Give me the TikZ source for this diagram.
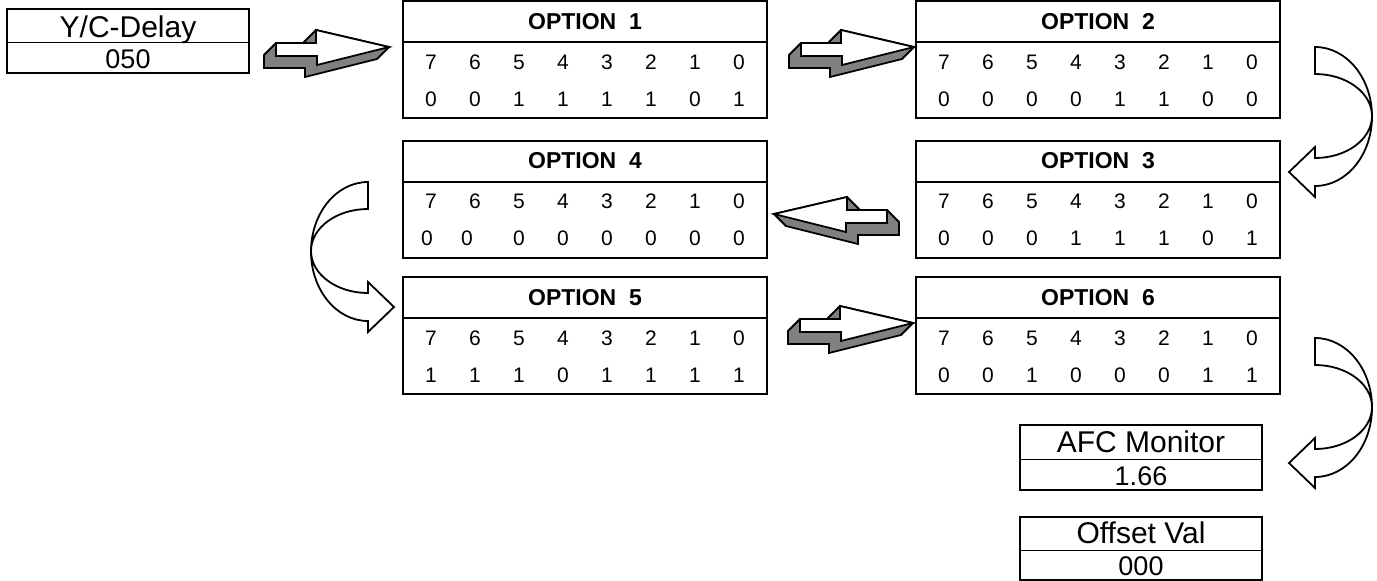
\documentclass[tikz,border=0pt]{standalone}
\usepackage{fontspec}
\setmainfont{Liberation Sans}
\usetikzlibrary{calc, positioning}
\definecolor{ShadeGray}{HTML}{808080}
\tikzset{
  optbox/.style={draw, line width=2pt, minimum width=364pt, minimum height=117pt, inner sep=0pt},
  valbox/.style={draw, line width=1.5pt, minimum width=242pt, inner sep=0pt},
  opthead/.style={font=\bfseries\fontsize{23}{23}\selectfont, inner sep=0pt},
  bitnum/.style={font=\fontsize{21}{21}\selectfont, inner sep=0pt},
  lbltext/.style={font=\fontsize{30}{30}\selectfont, inner sep=0pt, anchor=base},
  valtext/.style={font=\fontsize{27}{27}\selectfont, inner sep=0pt, anchor=base},
  shapeline/.style={draw=black, line width=1.8pt, line join=miter},
  % 3D block arrow, tip at the origin
  pics/blockarrow/.style={code={
    \fill[ShadeGray, shapeline] (-113,-4) -- (-125,8) -- (-125,21) -- (-84,21) -- (-84,30)
      -- (-12,12) -- (0,0) -- (-73,-17) -- (-85,-5) -- (-85,-4) -- cycle;
    \filldraw[fill=white, shapeline] (-113,-4) -- (-73,-4) -- (-73,-17) -- (0,0)
      -- (-72,18) -- (-72,9) -- (-113,9) -- cycle;
  }},
  % curved arrow, top of the tail at the origin
  pics/curvearrow/.style={code={
    \filldraw[fill=white, shapeline]
      (0,0) .. controls (31.5,0) and (57,31.1) .. (57,69.5)
      .. controls (57,107.9) and (31.5,139) .. (0,139)
      -- (0,150) -- (-26,125) -- (0,100) -- (0,111)
      .. controls (31.5,111) and (57,92.2) .. (57,69)
      .. controls (57,45.8) and (31.5,27) .. (0,27) -- cycle;
  }},
}
% name, centre, number, value bits with their x offsets
\newcommand{\OptTable}[4]{%
  \node[optbox] (#1) at (#2) {};
  \draw[line width=2pt] ($(#1.north west)+(0,42)$) -- ($(#1.north east)+(0,42)$);
  \node[opthead] (#1-head) at ($(#1.north)+(0,21.5)$) {OPTION\ \ #3};
  \foreach \b [count=\i from 0] in {7,6,5,4,3,2,1,0}
    \node[bitnum] (#1-b\b) at ($(#1.north west)+(29+44*\i,62)$) {\b};
  \foreach \v/\px [count=\i from 0] in {#4}
    \node[bitnum] (#1-v\i) at ($(#1.north west)+(\px,99)$) {\v};
}
\begin{document}
\begin{tikzpicture}[x=1pt, y=-1pt]
  \useasboundingbox (0,0) rectangle (1377,581);

  % value boxes
  \node[valbox, minimum height=64pt] (yc) at (128,41) {};
  \draw[line width=1.5pt] ($(yc.north west)+(0,34)$) -- ($(yc.north east)+(0,34)$);
  \node[lbltext] (yc-label) at ($(yc.north)+(0,29)$) {Y/C-Delay};
  \node[valtext] (yc-val) at ($(yc.south)+(0,-5)$) {050};

  \node[valbox, minimum height=65pt] (afc) at (1141,457.5) {};
  \draw[line width=1.5pt] ($(afc.north west)+(0,35)$) -- ($(afc.north east)+(0,35)$);
  \node[lbltext] (afc-label) at ($(afc.north)+(0,28)$) {AFC Monitor};
  \node[valtext] (afc-val) at ($(afc.south)+(0,-5)$) {1.66};

  \node[valbox, minimum height=63pt] (ofs) at (1141,548.5) {};
  \draw[line width=1.5pt] ($(ofs.north west)+(0,34)$) -- ($(ofs.north east)+(0,34)$);
  \node[lbltext] (ofs-label) at ($(ofs.north)+(0,27)$) {Offset Val};
  \node[valtext] (ofs-val) at ($(ofs.south)+(0,-5)$) {000};

  % option registers
  \OptTable{opt1}{585,59.5}{1}{0/29,0/73,1/117,1/161,1/205,1/249,0/293,1/337}
  \OptTable{opt2}{1098,59.5}{2}{0/29,0/73,0/117,0/161,1/205,1/249,0/293,0/337}
  \OptTable{opt3}{1098,199}{3}{0/29,0/73,0/117,1/161,1/205,1/249,0/293,1/337}
  \OptTable{opt4}{585,199}{4}{0/25,0/65,0/117,0/161,0/205,0/249,0/293,0/337}
  \OptTable{opt5}{585,335.5}{5}{1/29,1/73,1/117,0/161,1/205,1/249,1/293,1/337}
  \OptTable{opt6}{1098,335.5}{6}{0/29,0/73,1/117,0/161,0/205,0/249,1/293,1/337}

  % arrows
  \pic (arrA) at ($(opt1.west)+(-13,-12.5)$) {blockarrow};
  \pic (arrB) at ($(opt2.west)+(-1,-12.5)$) {blockarrow};
  \pic[xscale=-1] (arrC) at ($(opt4.east)+(6,15)$) {blockarrow};
  \pic (arrD) at ($(opt6.west)+(-2,-12.5)$) {blockarrow};
  \pic (bendA) at ($(opt2.east)+(34,-12.5)$) {curvearrow};
  \pic[xscale=-1] (bendB) at ($(opt4.west)+(-34,-17)$) {curvearrow};
  \pic (bendC) at ($(opt6.east)+(34,2.5)$) {curvearrow};
\end{tikzpicture}
\end{document}
